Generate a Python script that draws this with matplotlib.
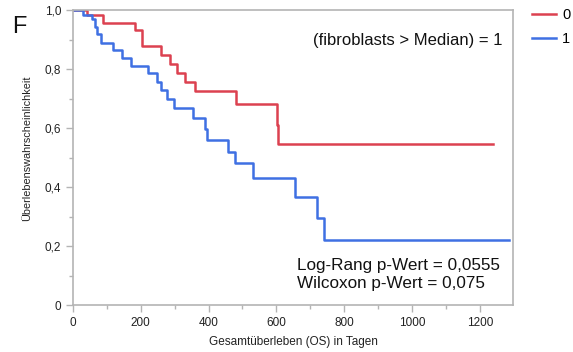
import matplotlib
matplotlib.use("Agg")
import matplotlib.pyplot as plt
from matplotlib.lines import Line2D

plt.rcParams['font.family'] = ['Liberation Sans', 'DejaVu Sans']

# Kaplan-Meier step data (time in days, survival probability)
red_t = [0, 40, 88, 183, 203, 259, 286, 306, 330, 360, 480, 603, 606, 1239]
red_s = [1.0, 0.983, 0.957, 0.932, 0.878, 0.847, 0.817, 0.785, 0.757, 0.726, 0.680, 0.610, 0.545, 0.545]
blue_t = [0, 30, 57, 65, 70, 82, 117, 144, 171, 222, 247, 261, 276, 298, 355, 389, 394, 458, 478,
          532, 654, 720, 740, 1286]
blue_s = [1.0, 0.983, 0.968, 0.943, 0.918, 0.889, 0.864, 0.838, 0.811, 0.785, 0.757, 0.729, 0.698,
          0.667, 0.633, 0.596, 0.559, 0.520, 0.480, 0.432, 0.367, 0.294, 0.220, 0.220]
group_labels = ['0', '1']
x_ticks = [0, 200, 400, 600, 800, 1000, 1200]
y_ticks = [0, 0.2, 0.4, 0.6, 0.8, 1.0]
y_tick_labels = ['0', '0,2', '0,4', '0,6', '0,8', '1,0']

RED = '#dc4150'
BLUE = '#3f70e3'
GRAY = '#b4b4b4'

fig = plt.figure(figsize=(5.73, 3.52), dpi=100)
ax = fig.add_axes([73/573, 1-305/352, 440/573, 295/352])

ax.step(red_t, red_s, where='post', color=RED, lw=1.8)
ax.step(blue_t, blue_s, where='post', color=BLUE, lw=1.8)

ax.set_xlim(0, 1298)
ax.set_ylim(0, 1.0)
ax.set_xticks(x_ticks)
ax.set_xticks([100, 300, 500, 700, 900, 1100], minor=True)
ax.set_yticks(y_ticks)
ax.set_yticklabels(y_tick_labels)
ax.set_yticks([0.1, 0.3, 0.5, 0.7, 0.9], minor=True)
ax.tick_params(axis='both', which='major', length=5, width=1, color=GRAY, labelsize=8.5, labelcolor='#222222')
ax.tick_params(axis='both', which='minor', length=3, width=1, color=GRAY)
for sp in ax.spines.values():
    sp.set_color(GRAY)
    sp.set_linewidth(1.2)

ax.set_xlabel('Gesamtüberleben (OS) in Tagen', fontsize=8.5, color='#222222', labelpad=5)
ax.set_ylabel('Überlebenswahrscheinlichkeit', fontsize=7.8, color='#222222')
ax.yaxis.set_label_coords(-0.093, 0.532)

ax.text(0.976, 0.895, '(fibroblasts > Median) = 1', transform=ax.transAxes, ha='right', va='center',
        fontsize=12, color='#111111')
ax.text(0.508, 0.105, 'Log-Rang p-Wert = 0,0555\nWilcoxon p-Wert = 0,075', transform=ax.transAxes,
        ha='left', va='center', fontsize=12.3, color='#111111', linespacing=1.25)

fig.text(19/573, 1-27/352, 'F', fontsize=17, ha='center', va='center', color='#111111')

handles = [Line2D([0], [0], color=RED, lw=1.8), Line2D([0], [0], color=BLUE, lw=1.8)]
fig.legend(handles, group_labels, loc='upper left', bbox_to_anchor=(532/573, 1-8/352), frameon=False,
           fontsize=10.5, handlelength=1.65, handletextpad=0.4, labelspacing=0.7, borderaxespad=0,
           borderpad=0)

fig.savefig('out.png', dpi=100)
